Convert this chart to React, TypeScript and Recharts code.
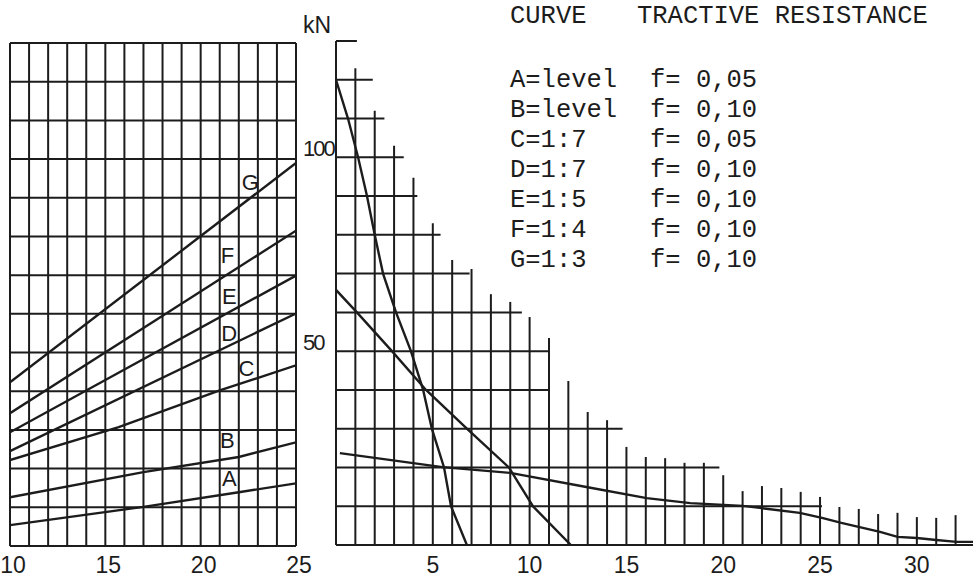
import React from 'react';
import { LineChart, Line, XAxis, YAxis, CartesianGrid, ReferenceLine, ReferenceDot } from 'recharts';

// ---------- left panel: resistance vs. weight ----------
const leftTicksX = [10, 11, 12, 13, 14, 15, 16, 17, 18, 19, 20, 21, 22, 23, 24, 25];
const forceTicks = [0, 10, 20, 30, 40, 50, 60, 70, 80, 90, 100, 110, 120, 130];

const curveAX = [10, 17, 22, 25];
const curveAKN = [5.4, 10.1, 13.9, 16.2];
const curveBX = [10, 17, 22, 25];
const curveBKN = [12.6, 19.1, 23.0, 26.8];
const curveCX = [10, 15.7, 21, 25];
const curveCKN = [22.2, 30.7, 40.2, 46.7];
const curveDX = [10, 25];
const curveDKN = [24.5, 60.1];
const curveEX = [10, 25];
const curveEKN = [29.4, 69.9];
const curveFX = [10, 25];
const curveFKN = [34.3, 81.5];
const curveGX = [10, 25];
const curveGKN = [42.3, 99.0];

const curveNames = ['A', 'B', 'C', 'D', 'E', 'F', 'G'];
const curveLabelX = [21.5, 21.4, 22.4, 21.5, 21.5, 21.4, 22.6];
const curveLabelKN = [17.6, 27.4, 46.0, 55.0, 64.6, 75.2, 94.1];

// ---------- right panel: tractive force vs. speed ----------
const rightTicksX = [5, 10, 15, 20, 25, 30];
const gridSpeeds = [0, 1, 2, 3, 4, 5, 6, 7, 8, 9, 10, 11, 12, 13, 14, 15, 16, 17, 18, 19, 20, 21, 22, 23, 24, 25, 26, 27, 28, 29, 30, 31, 32];
const gridTopKN = [130, 123, 112, 103, 94.7, 83, 73.5, 71.2, 64.7, 62.7, 58.8, 53.4, 42.3, 34.3, 32.2, 25.3, 22.7, 22.4, 21.2, 21.2, 18, 13.9, 15.2, 14.7, 13.7, 12.4, 9.8, 9.3, 8, 8.3, 7.2, 7, 7.7];
const gridEndSpeed = [32.9, 25.1, 19.8, 14.8, 10.95, 11, 9.6, 6.9, 5.4, 4.2, 3.5, 2.5, 1.9, 1.08];

const steepSpeed = [0, 0.62, 1.14, 1.6, 2.0, 2.43, 3.1, 3.87, 4.5, 4.95, 5.58, 5.94, 6.76];
const steepKN = [120, 110, 100, 90, 80, 70, 60, 50, 40, 30, 20, 10, 0];
const midSpeed = [0, 1.08, 2.89, 4.65, 6.76, 8.93, 10.17, 12.13];
const midKN = [65.8, 60, 50, 40, 30, 20, 10, 0];
const longSpeed = [0.2, 5.5, 9.0, 13.0, 16.05, 18.3, 21.0, 22.0, 23.95, 25.1, 26.1, 28.1, 29.0, 30.0, 31.0, 32.05, 32.9];
const longKN = [23.7, 20.1, 18.6, 14.9, 12.1, 10.8, 10.1, 9.5, 8.3, 7.0, 5.7, 3.4, 2.1, 1.8, 1.3, 0.8, 0.8];

// ---------- legend ----------
const legendCurves = ['A=level', 'B=level', 'C=1:7', 'D=1:7', 'E=1:5', 'F=1:4', 'G=1:3'];
const legendF = ['f= 0,05', 'f= 0,10', 'f= 0,05', 'f= 0,10', 'f= 0,10', 'f= 0,10', 'f= 0,10'];

const INK = '#1c1c1c';
const SANS = '"Liberation Sans", Arial, sans-serif';
const MONO = '"Liberation Mono", "DejaVu Sans Mono", monospace';

const pts = (xs: number[], ys: number[]) => xs.map((x, i) => ({ x, y: ys[i] }));

const leftSeries = [
  pts(curveAX, curveAKN), pts(curveBX, curveBKN), pts(curveCX, curveCKN), pts(curveDX, curveDKN),
  pts(curveEX, curveEKN), pts(curveFX, curveFKN), pts(curveGX, curveGKN),
];
const rightSeries = [pts(steepSpeed, steepKN), pts(midSpeed, midKN), pts(longSpeed, longKN)];

const LeftXTick = (props: any) => {
  const { x, y, payload } = props;
  if (payload.value % 5 !== 0) return <g />;
  return (
    <text x={x + 3} y={y + 27} textAnchor="middle" fontFamily={SANS} fontSize={23} fill={INK}>
      {payload.value}
    </text>
  );
};

const LeftYTick = (props: any) => {
  const { x, y, payload } = props;
  if (payload.value !== 50 && payload.value !== 100) return <g />;
  return (
    <text x={x + 7} y={y - 3} textAnchor="start" fontFamily={SANS} fontSize={22} letterSpacing={-2} fill={INK}>
      {payload.value}
    </text>
  );
};

const RightXTick = (props: any) => {
  const { x, y, payload } = props;
  return (
    <text x={x} y={y + 28} textAnchor="middle" fontFamily={SANS} fontSize={23} fill={INK}>
      {payload.value}
    </text>
  );
};

function LeftPanel() {
  return (
    <LineChart width={340} height={580} margin={{ top: 43, right: 0, bottom: 0, left: 10 }}>
      <CartesianGrid stroke={INK} strokeWidth={2} strokeOpacity={1} />
      <XAxis
        type="number"
        dataKey="x"
        domain={[10, 25]}
        ticks={leftTicksX}
        allowDataOverflow
        height={34}
        axisLine={false}
        tickLine={false}
        tickSize={0}
        tickMargin={0}
        tick={LeftXTick}
        interval={0}
      />
      <YAxis
        orientation="right"
        type="number"
        domain={[0, 130]}
        ticks={forceTicks}
        allowDataOverflow
        width={44}
        axisLine={false}
        tickLine={false}
        tickSize={0}
        tickMargin={0}
        tick={LeftYTick}
        interval={0}
      />
      {leftSeries.map((d, i) => (
        <Line
          key={curveNames[i]}
          data={d}
          dataKey="y"
          type="linear"
          stroke={INK}
          strokeWidth={2.4}
          dot={false}
          isAnimationActive={false}
        />
      ))}
      {curveNames.map((n, i) => (
        <ReferenceDot
          key={'lbl' + n}
          x={curveLabelX[i]}
          y={curveLabelKN[i]}
          r={0}
          fill="none"
          stroke="none"
          label={{ value: n, position: 'center', fill: INK, fontSize: 22, fontFamily: SANS }}
        />
      ))}
    </LineChart>
  );
}

function RightPanel() {
  return (
    <LineChart width={973} height={580} margin={{ top: 41, right: 0, bottom: 0, left: 336 }}>
      <XAxis
        type="number"
        dataKey="x"
        domain={[0, 32.9]}
        ticks={rightTicksX}
        allowDataOverflow
        height={35}
        axisLine={false}
        tickLine={false}
        tickSize={0}
        tickMargin={0}
        tick={RightXTick}
        interval={0}
      />
      <YAxis type="number" domain={[0, 130]} allowDataOverflow hide />
      {gridSpeeds.map((s, i) => (
        <ReferenceLine
          key={'v' + s}
          segment={[{ x: s, y: 0 }, { x: s, y: gridTopKN[i] }]}
          stroke={INK}
          strokeWidth={2}
          ifOverflow="visible"
        />
      ))}
      {forceTicks.map((f, i) => (
        <ReferenceLine
          key={'h' + f}
          segment={[{ x: 0, y: f }, { x: gridEndSpeed[i], y: f }]}
          stroke={INK}
          strokeWidth={2}
          ifOverflow="visible"
        />
      ))}
      {rightSeries.map((d, i) => (
        <Line
          key={'r' + i}
          data={d}
          dataKey="y"
          type="linear"
          stroke={INK}
          strokeWidth={2.4}
          dot={false}
          isAnimationActive={false}
        />
      ))}
    </LineChart>
  );
}

export default function App() {
  return (
    <div style={{ position: 'absolute', left: 0, top: 0, width: 973, height: 580, overflow: 'hidden', background: '#fff' }}>
      <div style={{ position: 'absolute', left: 0, top: 0 }}>
        <LeftPanel />
      </div>
      <div style={{ position: 'absolute', left: 0, top: 0 }}>
        <RightPanel />
      </div>
      <svg width={973} height={580} style={{ position: 'absolute', left: 0, top: 0, pointerEvents: 'none' }}>
        <text x={303} y={33} fontFamily={SANS} fontSize={23} fill={INK}>kN</text>
        <text x={510} y={23} fontFamily={MONO} fontSize={25.5} fill={INK} xmlSpace="preserve">CURVE</text>
        <text x={637} y={23} fontFamily={MONO} fontSize={25.5} fill={INK} xmlSpace="preserve">TRACTIVE RESISTANCE</text>
        {legendCurves.map((c, i) => (
          <text key={c + i} x={510} y={87 + i * 30} fontFamily={MONO} fontSize={25.5} fill={INK} xmlSpace="preserve">{c}</text>
        ))}
        {legendF.map((f, i) => (
          <text key={'f' + i} x={650} y={87 + i * 30} fontFamily={MONO} fontSize={25.5} fill={INK} xmlSpace="preserve" style={{ whiteSpace: 'pre' }}>{f}</text>
        ))}
      </svg>
    </div>
  );
}
